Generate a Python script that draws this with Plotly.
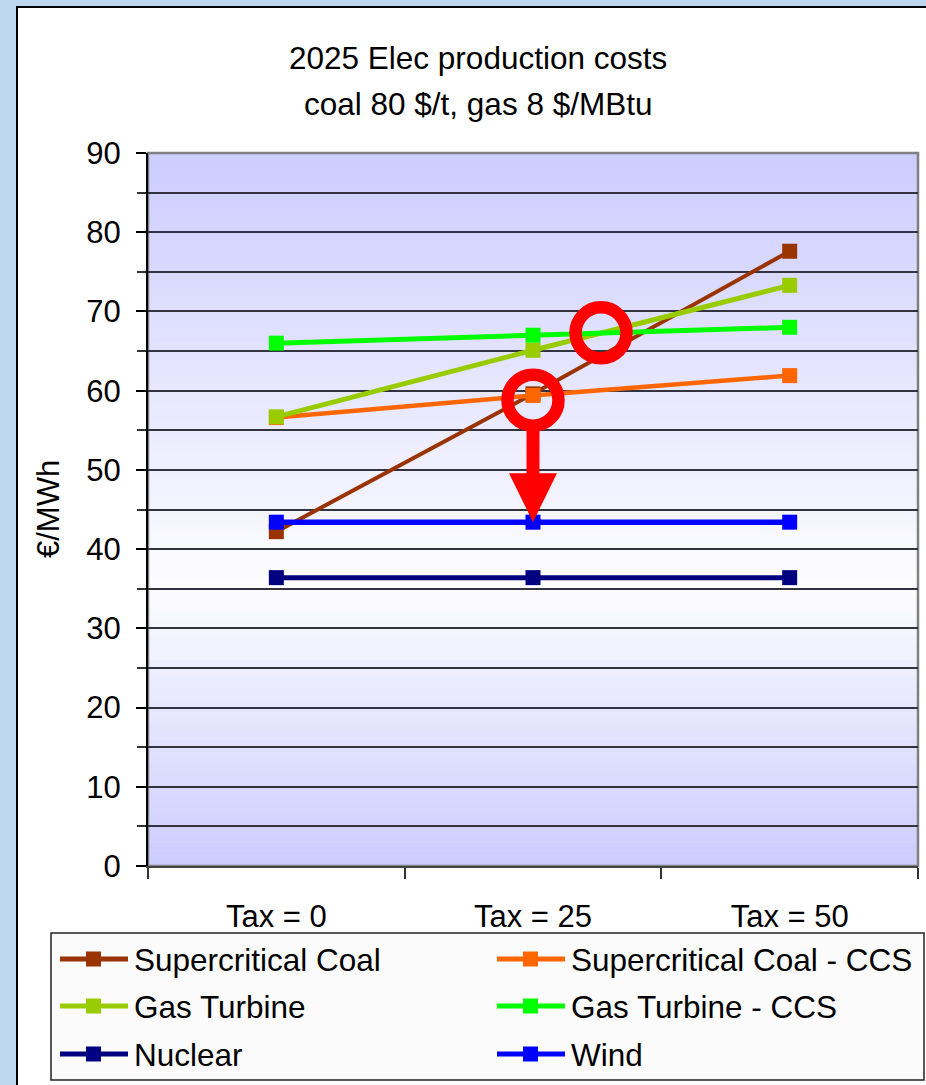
import plotly.graph_objects as go

# ---- data -------------------------------------------------------------
categories = ["Tax = 0", "Tax = 25", "Tax = 50"]

series_names = [
    "Supercritical Coal",
    "Supercritical Coal - CCS",
    "Gas Turbine",
    "Gas Turbine - CCS",
    "Nuclear",
    "Wind",
]
supercritical_coal = [42.2, 59.6, 77.6]
supercritical_coal_ccs = [56.6, 59.4, 61.9]
gas_turbine = [56.7, 65.1, 73.3]
gas_turbine_ccs = [66.0, 67.0, 68.0]
nuclear = [36.4, 36.4, 36.4]
wind = [43.4, 43.4, 43.4]

series_values = [
    supercritical_coal,
    supercritical_coal_ccs,
    gas_turbine,
    gas_turbine_ccs,
    nuclear,
    wind,
]
series_colors = ["#993300", "#FF6600", "#99CC00", "#00FF00", "#000080", "#0000FF"]
line_widths = [4, 4.5, 5, 5, 5, 5.5]

y_ticks = [0, 10, 20, 30, 40, 50, 60, 70, 80, 90]

# ---- layout geometry (pixels) ------------------------------------------
W, H = 926, 1085
L, R, T, B = 148, 918, 153, 866
FONT = "Liberation Sans, Arial, sans-serif"


def fx(p):
    """pixel x -> paper x"""
    return (p - L) / (R - L)


def fy(p):
    """pixel y -> paper y"""
    return (B - p) / (B - T)


fig = go.Figure()

for name, vals, col, lw in zip(series_names, series_values, series_colors, line_widths):
    fig.add_trace(
        go.Scatter(
            x=categories,
            y=vals,
            name=name,
            mode="lines+markers",
            line=dict(color=col, width=lw),
            marker=dict(symbol="square", size=15, color=col, line=dict(width=0)),
            showlegend=False,
            hoverinfo="x+y+name",
        )
    )

shapes = []

# white chart frame on the slide background
shapes.append(
    dict(
        type="rect", xref="paper", yref="paper", layer="below",
        x0=fx(17), x1=fx(945), y0=fy(7), y1=fy(1110),
        fillcolor="white", line=dict(color="black", width=2),
    )
)

# plot area: lavender -> white -> lavender vertical gradient
lav = (204, 204, 255)
wht = (253, 253, 255)
mid = 585
n_bands = 90
step = (B - T) / n_bands
for i in range(n_bands):
    y0p = T + i * step
    yc = y0p + step / 2
    if yc < mid:
        t = (mid - yc) / (mid - T)
    else:
        t = (yc - mid) / (B - mid)
    c = tuple(round(wht[k] + (lav[k] - wht[k]) * t) for k in range(3))
    shapes.append(
        dict(
            type="rect", xref="paper", yref="paper", layer="below",
            x0=0, x1=1, y0=fy(y0p + step + 0.6), y1=fy(y0p),
            fillcolor="rgb(%d,%d,%d)" % c, line=dict(width=0),
        )
    )

# gray plot-area border (top / right)
shapes.append(
    dict(
        type="rect", xref="paper", yref="paper", layer="below",
        x0=0, x1=1, y0=0, y1=1,
        fillcolor="rgba(0,0,0,0)", line=dict(color="#808080", width=2.5),
    )
)

# red rings highlighting the crossing points, and the arrow down to wind
ring_points = [(1, 58.8), (1.265, 67.3)]
for cx, cy in ring_points:
    shapes.append(
        dict(
            type="circle", xref="x", yref="y",
            xsizemode="pixel", ysizemode="pixel",
            xanchor=cx, yanchor=cy,
            x0=-25.5, x1=25.5, y0=-25.5, y1=25.5,
            line=dict(color="#FF0000", width=12.5),
            fillcolor="rgba(0,0,0,0)",
        )
    )

shapes.append(
    dict(
        type="path", xref="x", yref="y",
        xsizemode="pixel", ysizemode="pixel",
        xanchor=1, yanchor=wind[1],
        path="M -6.5,93 L 6.5,93 L 6.5,49 L 24,49 L 0,0 L -24,49 L -6.5,49 Z",
        fillcolor="#FF0000", line=dict(width=0),
    )
)

# legend box and entries
shapes.append(
    dict(
        type="rect", xref="paper", yref="paper",
        x0=fx(51), x1=fx(924), y0=fy(1080), y1=fy(933),
        fillcolor="#FBFBFB", line=dict(color="#222222", width=1.5),
    )
)

annotations = []
col_x = [60, 497]
row_y = [959, 1006, 1054]
for i, (name, col) in enumerate(zip(series_names, series_colors)):
    x0 = col_x[i % 2]
    y = row_y[i // 2]
    shapes.append(
        dict(
            type="line", xref="paper", yref="paper",
            x0=fx(x0), x1=fx(x0 + 68), y0=fy(y), y1=fy(y),
            line=dict(color=col, width=5),
        )
    )
    shapes.append(
        dict(
            type="rect", xref="paper", yref="paper",
            x0=fx(x0 + 26), x1=fx(x0 + 41), y0=fy(y + 7.5), y1=fy(y - 7.5),
            fillcolor=col, line=dict(width=0),
        )
    )
    annotations.append(
        dict(
            xref="paper", yref="paper", x=fx(x0 + 72), y=fy(y + 1),
            xanchor="left", yanchor="middle", showarrow=False,
            text=name, font=dict(family=FONT, size=31.5, color="black"),
        )
    )

# chart title
annotations.append(
    dict(
        xref="paper", yref="paper", x=fx(478), y=fy(58),
        xanchor="center", yanchor="middle", showarrow=False,
        text="2025 Elec production costs",
        font=dict(family=FONT, size=31.5, color="black"),
    )
)
annotations.append(
    dict(
        xref="paper", yref="paper", x=fx(478), y=fy(104),
        xanchor="center", yanchor="middle", showarrow=False,
        text="coal 80 $/t, gas 8 $/MBtu",
        font=dict(family=FONT, size=31.5, color="black"),
    )
)

# y-axis title
annotations.append(
    dict(
        xref="paper", yref="paper", x=fx(48), y=fy(509),
        xanchor="center", yanchor="middle", showarrow=False,
        textangle=-90, text="€/MWh",
        font=dict(family=FONT, size=31, color="black"),
    )
)

fig.update_layout(
    width=W,
    height=H,
    margin=dict(l=L, r=W - R, t=T, b=H - B, pad=0),
    paper_bgcolor="#BCD7EE",
    plot_bgcolor="rgba(0,0,0,0)",
    shapes=shapes,
    annotations=annotations,
    showlegend=False,
    font=dict(family=FONT, size=30, color="black"),
    xaxis=dict(
        type="category",
        categoryorder="array",
        categoryarray=categories,
        range=[-0.5, 2.5],
        tickson="boundaries",
        ticks="outside",
        ticklen=11,
        tickwidth=1.5,
        tickcolor="#333333",
        showgrid=False,
        showline=True,
        linecolor="#444444",
        linewidth=2,
        tickfont=dict(family=FONT, size=31, color="black"),
        ticklabelstandoff=22,
        zeroline=False,
    ),
    yaxis=dict(
        range=[0, 90],
        tickvals=y_ticks,
        ticks="outside",
        ticklen=10,
        tickwidth=2,
        tickcolor="black",
        showline=True,
        linecolor="black",
        linewidth=2,
        showgrid=True,
        gridcolor="#333340",
        gridwidth=1.5,
        zeroline=False,
        tickfont=dict(family=FONT, size=31, color="black"),
        ticklabelstandoff=9,
        minor=dict(
            dtick=5,
            ticks="outside",
            ticklen=9,
            tickwidth=1.5,
            tickcolor="#333333",
            showgrid=True,
            gridcolor="#333340",
            gridwidth=1.5,
        ),
    ),
)

fig.write_html("out.html")
